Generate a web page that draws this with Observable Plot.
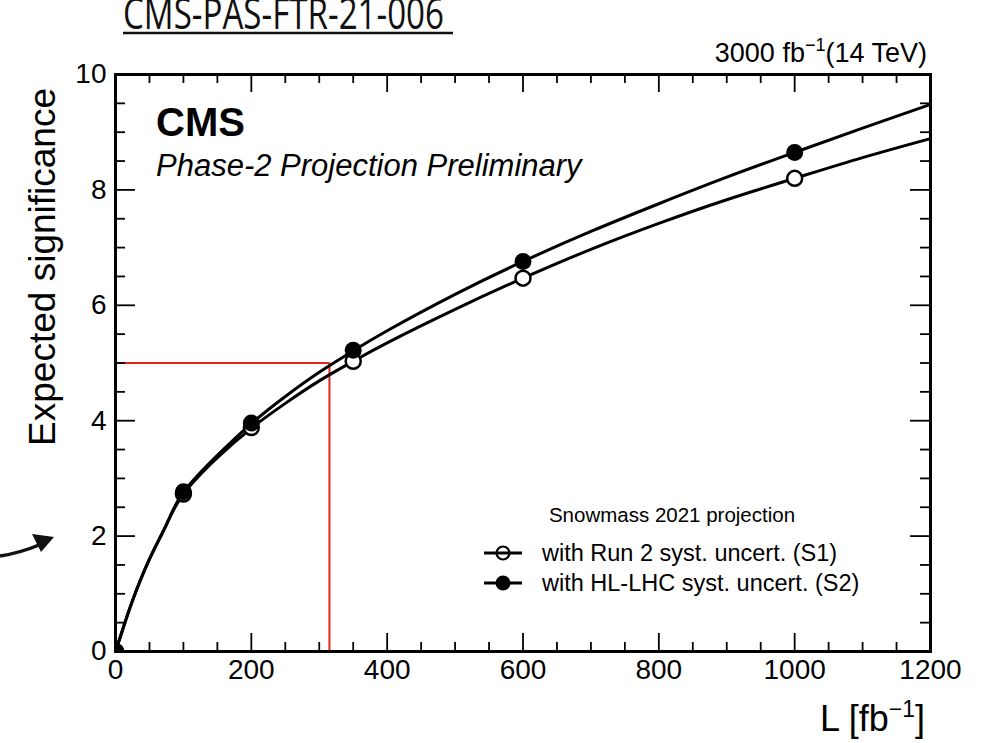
<!DOCTYPE html>
<html>
<head>
<meta charset="utf-8">
<script src="https://cdn.jsdelivr.net/npm/d3@7"></script>
<script src="https://cdn.jsdelivr.net/npm/@observablehq/plot@0.6"></script>
<style>
  html, body { margin: 0; padding: 0; background: #fff; }
  #chart { width: 992px; height: 743px; overflow: hidden; }
</style>
</head>
<body>
<div id="chart"></div>
<script>
// Integrated luminosity (fb^-1) of the projected points
const lumiPoints = [0, 100, 200, 350, 600, 1000];
// Expected significance, Run 2 systematic uncertainties (S1)
const sigS1 = [0, 2.73, 3.88, 5.03, 6.47, 8.2];
// Expected significance, HL-LHC systematic uncertainties (S2)
const sigS2 = [0, 2.77, 3.96, 5.22, 6.76, 8.65];

// Fitted curves through the projections
const lumiCurve = [0, 10, 25, 50, 75, 100, 150, 200, 250, 300, 350, 400, 500, 600, 700, 800, 900, 1000, 1100, 1200];
const curveS1 = [0, 0.36, 0.88, 1.6, 2.2, 2.73, 3.36, 3.87, 4.3, 4.69, 5.03, 5.35, 5.93, 6.47, 6.97, 7.42, 7.83, 8.2, 8.56, 8.89];
const curveS2 = [0, 0.36, 0.88, 1.6, 2.2, 2.76, 3.4, 3.95, 4.42, 4.84, 5.21, 5.56, 6.19, 6.76, 7.28, 7.76, 8.22, 8.65, 9.07, 9.48];

// 5 sigma discovery threshold and the luminosity where it is reached
const discoverySig = 5;
const discoveryLumi = 315;

// Axis ranges and ticks
const xDomain = [0, 1200];
const yDomain = [0, 10];
const xTicks = [0, 200, 400, 600, 800, 1000, 1200];
const xMinorTicks = d3.range(0, 1201, 50).filter(v => v % 200 !== 0);
const yTicks = [0, 2, 4, 6, 8, 10];
const yMinorTicks = d3.range(0, 10.01, 0.5).filter(v => v % 2 !== 0);

const seriesNames = ["S1", "S2"];
const legendLabels = ["with Run 2 syst. uncert. (S1)", "with HL-LHC syst. uncert. (S2)"];

const points1 = lumiPoints.map((L, i) => ({L, sig: sigS1[i]}));
const points2 = lumiPoints.map((L, i) => ({L, sig: sigS2[i]}));
const curves = [
  ...lumiCurve.map((L, i) => ({L, sig: curveS1[i], series: seriesNames[0]})),
  ...lumiCurve.map((L, i) => ({L, sig: curveS2[i], series: seriesNames[1]}))
];

const W = 992, H = 743;
const mTop = 74, mRight = 62, mBottom = 92, mLeft = 115;
const innerW = W - mLeft - mRight, innerH = H - mTop - mBottom;
const font = "'Liberation Sans', Arial, Helvetica, sans-serif";
const red = "#e2231a";

// tick lengths expressed in axis units (18 px major, 9 px minor)
const xUnit = (xDomain[1] - xDomain[0]) / innerW;
const yUnit = (yDomain[1] - yDomain[0]) / innerH;
const tickStyle = {stroke: "black", strokeWidth: 1.8};
const xTickMarks = (vals, len) => [
  Plot.ruleX(vals, {x: d => d, y1: yDomain[0], y2: yDomain[0] + len * yUnit, ...tickStyle}),
  Plot.ruleX(vals, {x: d => d, y1: yDomain[1], y2: yDomain[1] - len * yUnit, ...tickStyle})
];
const yTickMarks = (vals, len) => [
  Plot.ruleY(vals, {y: d => d, x1: xDomain[0], x2: xDomain[0] + len * xUnit, ...tickStyle}),
  Plot.ruleY(vals, {y: d => d, x1: xDomain[1], x2: xDomain[1] - len * xUnit, ...tickStyle})
];

const plot = Plot.plot({
  width: W,
  height: H,
  marginTop: mTop,
  marginRight: mRight,
  marginBottom: mBottom,
  marginLeft: mLeft,
  x: {domain: xDomain},
  y: {domain: yDomain},
  style: {fontFamily: font, background: "white", color: "black", overflow: "visible"},
  marks: [
    // 5 sigma guide lines
    Plot.ruleY([discoverySig], {x1: 0, x2: discoveryLumi, stroke: red, strokeWidth: 2}),
    Plot.ruleX([discoveryLumi], {y1: 0, y2: discoverySig, stroke: red, strokeWidth: 2}),
    // inward ticks on all four sides
    ...xTickMarks(xTicks, 18),
    ...xTickMarks(xMinorTicks, 9),
    ...yTickMarks(yTicks, 20),
    ...yTickMarks(yMinorTicks, 10),
    // fitted curves
    Plot.line(curves, {x: "L", y: "sig", z: "series", curve: "natural", stroke: "black", strokeWidth: 3, clip: true}),
    // projected points
    Plot.dot(points1, {x: "L", y: "sig", r: 7.5, fill: "white", stroke: "black", strokeWidth: 2.5, clip: true}),
    Plot.dot(points2, {x: "L", y: "sig", r: 8.5, fill: "black", stroke: "none", clip: true}),
    Plot.frame({stroke: "black", strokeWidth: 3}),
    Plot.axisX(xTicks, {tickSize: 0, tickPadding: 8, fontSize: 28, label: null, tickFormat: d => String(d)}),
    Plot.axisY(yTicks, {tickSize: 0, tickPadding: 9, fontSize: 28, label: null, tickFormat: d => String(d)})
  ]
});

const svg = d3.select(plot);

// document reference at the top
svg.append("text")
  .attr("x", 123).attr("y", 29)
  .attr("text-anchor", "start")
  .attr("font-family", "'Open Sans', 'DejaVu Sans', sans-serif")
  .attr("font-size", 43)
  .attr("textLength", 321)
  .attr("lengthAdjust", "spacingAndGlyphs")
  .attr("fill", "#111")
  .text("CMS-PAS-FTR-21-006");
svg.append("line")
  .attr("x1", 123).attr("x2", 453).attr("y1", 33).attr("y2", 33)
  .attr("stroke", "#111").attr("stroke-width", 2.5);

// luminosity and energy
const lumiText = svg.append("text")
  .attr("x", 927).attr("y", 62)
  .attr("text-anchor", "end")
  .attr("font-family", font).attr("font-size", 27);
lumiText.append("tspan").text("3000 fb");
lumiText.append("tspan").attr("dy", -11).attr("font-size", 18).text("\u22121");
lumiText.append("tspan").attr("dy", 11).text("(14 TeV)");

// experiment label
svg.append("text")
  .attr("x", 156).attr("y", 136)
  .attr("text-anchor", "start")
  .attr("font-family", font).attr("font-size", 40).attr("font-weight", "bold")
  .text("CMS");
svg.append("text")
  .attr("x", 156).attr("y", 176)
  .attr("text-anchor", "start")
  .attr("font-family", font).attr("font-size", 31).attr("font-style", "italic")
  .text("Phase-2 Projection Preliminary");

// axis titles
svg.append("text")
  .attr("transform", "translate(55,88) rotate(-90)")
  .attr("text-anchor", "end")
  .attr("font-family", font).attr("font-size", 37)
  .text("Expected significance");
const xTitle = svg.append("text")
  .attr("x", 925).attr("y", 731)
  .attr("text-anchor", "end")
  .attr("font-family", font).attr("font-size", 36);
xTitle.append("tspan").text("L [fb");
xTitle.append("tspan").attr("dy", -14).attr("font-size", 23).text("\u22121");
xTitle.append("tspan").attr("dy", 14).text("]");

// legend
svg.append("text")
  .attr("x", 672).attr("y", 522)
  .attr("text-anchor", "middle")
  .attr("font-family", font).attr("font-size", 20.5)
  .text("Snowmass 2021 projection");
legendLabels.forEach((label, i) => {
  const cy = 553 + i * 30;
  svg.append("line")
    .attr("x1", 484).attr("x2", 522).attr("y1", cy).attr("y2", cy)
    .attr("stroke", "black").attr("stroke-width", 3);
  svg.append("circle")
    .attr("cx", 503).attr("cy", cy).attr("r", i === 0 ? 6.5 : 7.5)
    .attr("fill", i === 0 ? "none" : "black")
    .attr("stroke", "black").attr("stroke-width", i === 0 ? 2.2 : 0);
  svg.append("text")
    .attr("x", 542).attr("y", cy + 8)
    .attr("text-anchor", "start")
    .attr("font-family", font).attr("font-size", 23.5)
    .text(label);
});

// pointer arrow on the left
svg.append("path")
  .attr("d", "M0,556 Q20,553 39,545")
  .attr("fill", "none").attr("stroke", "#111").attr("stroke-width", 3.5);
svg.append("path")
  .attr("d", "M54,537 L32,534 L41,552 Z")
  .attr("fill", "#111");

document.getElementById("chart").appendChild(plot);
</script>
</body>
</html>
